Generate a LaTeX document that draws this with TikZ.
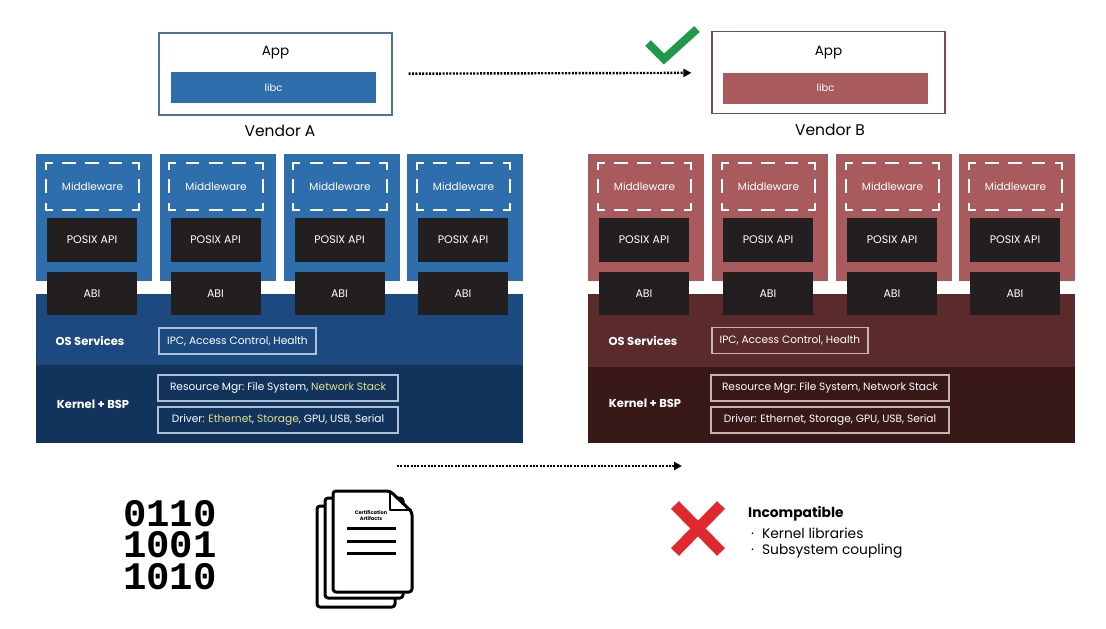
\documentclass[tikz,border=0pt]{standalone}
\usepackage{fontspec}
\setmainfont{Poppins}
\newfontfamily\binfont{Liberation Mono}
\usetikzlibrary{arrows.meta}
\definecolor{blueCol}{HTML}{2E6EAC}
\definecolor{blueOS}{HTML}{1C4A80}
\definecolor{blueK}{HTML}{12335C}
\definecolor{redCol}{HTML}{A95A5D}
\definecolor{redOS}{HTML}{5B2A2A}
\definecolor{redK}{HTML}{391818}
\definecolor{blk}{HTML}{231F20}
\definecolor{hl}{HTML}{E4E08A}
\definecolor{appAline}{HTML}{5070A0}
\definecolor{appBline}{HTML}{7E4C4C}
\definecolor{okgreen}{HTML}{20994A}
\definecolor{nored}{HTML}{E0282E}
\newcommand\mwframe[1]{%
  \draw[mwh] (#1.north west) -- (#1.north east);
  \draw[mwh] (#1.south west) -- (#1.south east);
  \draw[mwv] (#1.north west) -- (#1.south west);
  \draw[mwv] (#1.north east) -- (#1.south east);}
\begin{document}
\begin{tikzpicture}[x=1pt,y=-1pt,
  colbox/.style={draw=none, inner sep=0, minimum width=116, minimum height=127},
  band/.style={draw=none, inner sep=0, anchor=north west, minimum width=487},
  mw/.style={inner sep=0, minimum width=93, minimum height=47, text=white, font=\fontsize{10.5}{12}\selectfont},
  mwh/.style={white, line width=1.8pt, line cap=rect, dash pattern=on 12pt off 11.25pt, dash phase=6pt},
  mwv/.style={white, line width=1.8pt, line cap=rect, dash pattern=on 12pt off 11.5pt, dash phase=6pt},
  blkbox/.style={fill=blk, inner sep=0, minimum width=90, minimum height=44, text=white, font=\fontsize{11}{13}\selectfont},
  lbl/.style={text=white, font=\bfseries\fontsize{11.5}{13}\selectfont, inner sep=0},
  svcA/.style={draw=white!65!blueOS, line width=1.2pt, inner sep=0, minimum height=26, text=white, font=\fontsize{10.6}{12}\selectfont},
  svcB/.style={draw=white!65!redOS, line width=1.2pt, inner sep=0, minimum height=26, text=white, font=\fontsize{10.6}{12}\selectfont},
  appbox/.style={line width=1.2pt, inner sep=0, minimum width=233, minimum height=82},
  apptxt/.style={font=\fontsize{13.5}{15}\selectfont, inner sep=0},
  libc/.style={inner sep=0, minimum width=205, minimum height=31, text=white, font=\fontsize{10}{12}\selectfont},
  vend/.style={font=\fontsize{15.5}{17}\selectfont, inner sep=0},
  dotarrow/.style={line width=2.4pt, dash pattern=on 2pt off 1.4pt, -{Triangle[length=8pt,width=8pt]}},
  icon/.style={line width=3pt, line join=round, line cap=round, rounded corners=3pt}
]
\useasboundingbox (0,0) rectangle (1106,629);

% ---------- Apps ----------
\node[appbox, draw=appAline] (appA) at (275.5,74) {};
\node[apptxt] (appAt) at (275.5,53) {App};
\node[libc, fill=blueCol] (libcA) at (273.5,87.5) {libc};
\node[vend] (vendA) at (280,131) {Vendor A};

\node[appbox, draw=appBline] (appB) at (828.5,72.5) {};
\node[apptxt] (appBt) at (828.5,53) {App};
\node[libc, fill=redCol] (libcB) at (825.5,88) {libc};
\node[vend] (vendB) at (830,130) {Vendor B};

\draw[dotarrow, shorten <=16pt, shorten >=20pt] (appA) -- (appB);
\draw[okgreen, line width=8pt, line join=miter, line cap=butt] (648,43) -- (664,59) -- (697,29);

% ---------- Vendor A stack ----------
\foreach \i/\cx in {1/94,2/217.5,3/341.5,4/465}{
  \node[colbox, fill=blueCol] (cA\i) at (\cx,217.5) {};
}
\node[band, fill=blueOS, minimum height=71] (osA) at (36,294) {};
\node[band, fill=blueK, minimum height=78] (kA) at (36,365) {};
\foreach \i/\cx in {1/94,2/217.5,3/341.5,4/465}{
  \node[mw] (mwA\i) at (\cx-1.5,186.5) {Middleware};
  \mwframe{mwA\i}
  \node[blkbox] (pxA\i) at (\cx-2,240) {POSIX API};
  \node[blkbox, minimum height=43] (abA\i) at (\cx-2,293.5) {ABI};
}
\node[lbl] (osAl) at (90,341) {OS Services};
\node[lbl] (kAl) at (93,404) {Kernel + BSP};
\node[svcA, minimum width=157] (ipcA) at (237.5,341) {IPC, Access Control, Health};
\node[svcA, minimum width=240] (resA) at (278,388) {Resource Mgr:\ File System, \textcolor{hl}{Network Stack}};
\node[svcA, minimum width=240] (drvA) at (278,420) {Driver: \textcolor{hl}{Ethernet}, \textcolor{hl}{Storage}, GPU, USB, Serial};

% ---------- Vendor B stack ----------
\foreach \i/\cx in {1/646,2/770,3/894,4/1017}{
  \node[colbox, fill=redCol] (cB\i) at (\cx,217.5) {};
}
\node[band, fill=redOS, minimum height=73] (osB) at (588,294) {};
\node[band, fill=redK, minimum height=76] (kB) at (588,367) {};
\foreach \i/\cx in {1/646,2/770,3/894,4/1017}{
  \node[mw] (mwB\i) at (\cx-1.5,186.5) {Middleware};
  \mwframe{mwB\i}
  \node[blkbox] (pxB\i) at (\cx-2,240) {POSIX API};
  \node[blkbox, minimum height=43] (abB\i) at (\cx-2,293.5) {ABI};
}
\node[lbl] (osBl) at (643,341) {OS Services};
\node[lbl] (kBl) at (645,403) {Kernel + BSP};
\node[svcB, minimum width=156] (ipcB) at (790,340.5) {IPC, Access Control, Health};
\node[svcB, minimum width=238] (resB) at (830,388) {Resource Mgr:\ File System, Network Stack};
\node[svcB, minimum width=238] (drvB) at (830,420) {Driver: Ethernet, Storage, GPU, USB, Serial};

% ---------- bottom arrow ----------
\coordinate (bs) at (397,466);
\coordinate (be) at (682,466);
\draw[dotarrow] (bs) -- (be);

% ---------- binary ----------
\node[font=\binfont\bfseries\fontsize{39}{31.5}\selectfont, align=center, inner sep=0] (bin) at (170,545) {0110\\1001\\1010};

% ---------- documents ----------
\draw[icon, fill=white] (317,506) rectangle (395,607);
\draw[icon, fill=white] (325,498) rectangle (403,598);
\draw[icon, fill=white] (333,491) -- (390,491) -- (412,512) -- (412,592) -- (333,592) -- cycle;
\draw[line width=2.5pt, line join=round] (390,491) -- (390,510) -- (412,510);
\draw[line width=3pt] (347,528) -- (396,528);
\draw[line width=3pt] (347,541) -- (396,541);
\draw[line width=3pt] (347,553) -- (396,553);
\node[font=\bfseries\fontsize{5}{6}\selectfont, align=center, inner sep=0] (cert) at (371,516) {Certification\\Artifacts};

% ---------- incompatible ----------
\draw[nored, line width=11pt] (675,505) -- (721,552);
\draw[nored, line width=11pt] (721,505) -- (675,552);
\node[anchor=west, inner sep=0, font=\bfseries\fontsize{13.8}{15}\selectfont] (inc) at (748,514) {Incompatible};
\node[anchor=west, inner sep=0, font=\fontsize{13.8}{15}\selectfont] (k1) at (751,533) {·\hspace{8pt}Kernel libraries};
\node[anchor=west, inner sep=0, font=\fontsize{13.8}{15}\selectfont] (k2) at (751,551) {·\hspace{8pt}Subsystem coupling};
\end{tikzpicture}
\end{document}
